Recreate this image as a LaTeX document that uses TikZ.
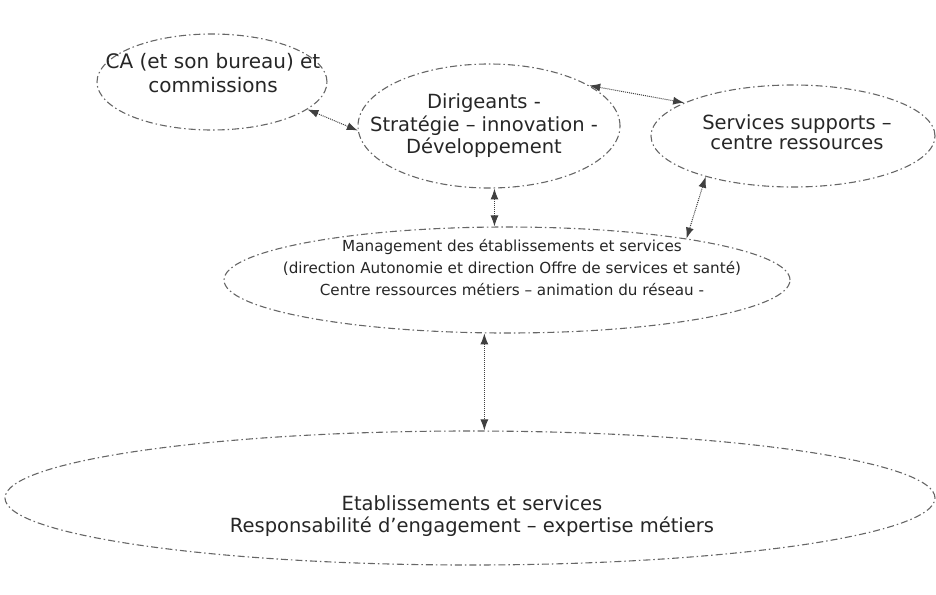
\documentclass[tikz,border=0pt]{standalone}
\usepackage{fontspec}
\setmainfont{DejaVu Sans}
\usetikzlibrary{shapes.geometric,arrows.meta}
\begin{document}
\begin{tikzpicture}[x=1pt,y=-1pt,
  oval/.style={draw=black!60, line width=1.1pt, dash pattern=on 7pt off 3pt on 1.5pt off 3pt, ellipse, inner sep=0pt},
  lbl/.style={text=black!85, align=center, inner sep=0pt},
  link/.style={black!75, line width=1pt, densely dotted, {Latex[length=11pt,width=8pt]}-{Latex[length=11pt,width=8pt]}}]
\useasboundingbox (0,0) rectangle (936,594);
% ovals
\node[oval, minimum width=230pt, minimum height=96pt] (ca) at (212,82) {};
\node[oval, minimum width=262pt, minimum height=124pt] (dir) at (489,126) {};
\node[oval, minimum width=284pt, minimum height=102pt] (serv) at (793,136) {};
\node[oval, minimum width=566pt, minimum height=106pt] (man) at (507,280) {};
\node[oval, minimum width=930pt, minimum height=134pt] (etab) at (470,498) {};
% texts
\node[lbl, font=\fontsize{20}{24}\selectfont] (ca-t) at (213,73) {CA (et son bureau) et\\commissions};
\node[lbl, font=\fontsize{19.5}{22.5}\selectfont] (dir-t) at (484,126) {Dirigeants -\\Stratégie – innovation -\\Développement};
\node[lbl, font=\fontsize{19.5}{20}\selectfont] (serv-t) at (797,132) {Services supports –\\centre ressources};
\node[lbl, font=\fontsize{15.2}{22}\selectfont] (man-t) at (512,268) {Management des établissements et services\\(direction Autonomie et direction Offre de services et santé)\\Centre ressources métiers – animation du réseau -};
\node[lbl, font=\fontsize{19.5}{22}\selectfont] (etab-t) at (472,516) {Etablissements et services\\Responsabilité d’engagement – expertise métiers};
% connectors
\draw[link] (ca.-16) -- (dir.182);
\draw[link] (dir.22) -- (serv.163);
\draw[link] (dir.-85) -- (dir.-85 |- man.north);
\draw[link] (serv.-155) -- (man.13);
\draw[link] (man.-113) -- (man.-113 |- etab.north);
\end{tikzpicture}
\end{document}
